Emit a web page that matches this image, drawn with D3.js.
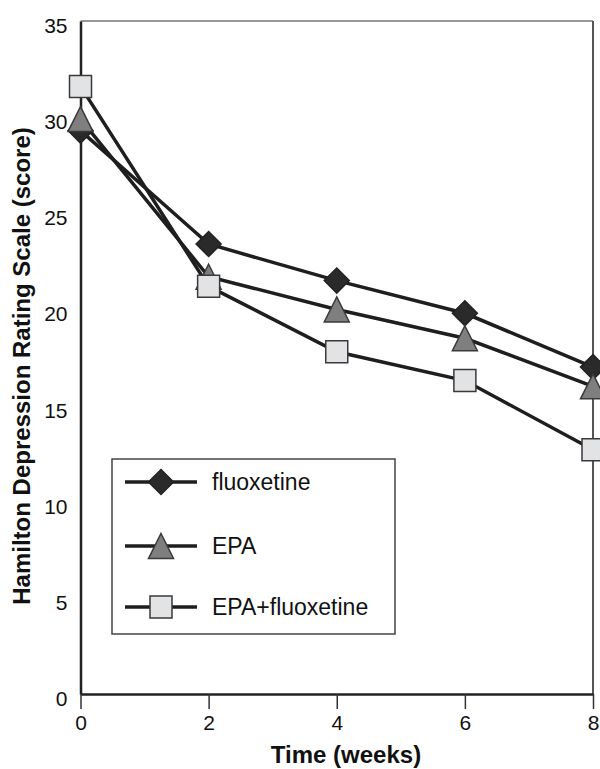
<!DOCTYPE html>
<html>
<head>
<meta charset="utf-8">
<script src="https://cdn.jsdelivr.net/npm/d3@7"></script>
<style>
  body { margin: 0; background: #fff; }
  text { font-family: "Liberation Sans", Arial, sans-serif; fill: #111; }
</style>
</head>
<body>
<div id="chart"></div>
<script>
// chart values
var weeks = [0, 2, 4, 6, 8];
var fluoxetine = [29.3, 23.4, 21.5, 19.8, 17.0];
var epa = [29.9, 21.7, 20.0, 18.5, 16.0];
var epaFluoxetine = [31.6, 21.2, 17.8, 16.3, 12.7];
var seriesNames = ["fluoxetine", "EPA", "EPA+fluoxetine"];
var xTicks = [0, 2, 4, 6, 8];
var yTicks = [0, 5, 10, 15, 20, 25, 30, 35];

var W = 600, H = 769;
var svg = d3.select("#chart").append("svg").attr("width", W).attr("height", H);

var x = d3.scaleLinear().domain([0, 8]).range([80.5, 593]);
var y = d3.scaleLinear().domain([0, 35]).range([694, 21]);

// frame (top/right)
svg.append("line").attr("x1", x(0)).attr("x2", x(8)).attr("y1", y(35)).attr("y2", y(35))
  .attr("stroke", "#333").attr("stroke-width", 1.2);
svg.append("line").attr("x1", x(8)).attr("x2", x(8)).attr("y1", y(35)).attr("y2", y(0))
  .attr("stroke", "#555").attr("stroke-width", 2);

// y axis
var yAxis = svg.append("g").attr("transform", "translate(" + x(0) + ",0)")
  .call(d3.axisLeft(y).tickValues(yTicks).tickSize(0).tickPadding(13));
yAxis.attr("font-size", null).attr("font-family", null);
yAxis.select(".domain").attr("stroke", "#222").attr("stroke-width", 2.5);
yAxis.selectAll("text").style("font-size", "21px").attr("dy", "0.55em").attr("fill", "#111");

// x axis
var xAxis = svg.append("g").attr("transform", "translate(0," + y(0) + ")")
  .call(d3.axisBottom(x).tickValues(xTicks).tickSize(15).tickSizeOuter(0).tickPadding(6));
xAxis.attr("font-size", null).attr("font-family", null);
xAxis.select(".domain").attr("stroke", "#222").attr("stroke-width", 2.5);
xAxis.selectAll(".tick line").attr("stroke", "#333").attr("stroke-width", 1.5);
xAxis.selectAll("text").style("font-size", "21px").attr("fill", "#111");

// axis titles
svg.append("text").attr("x", 346).attr("y", 763).attr("text-anchor", "middle")
  .style("font-size", "24px").attr("font-weight", "bold").text("Time (weeks)");
svg.append("text").attr("transform", "translate(30,366) rotate(-90)").attr("text-anchor", "middle")
  .style("font-size", "24px").attr("font-weight", "bold").text("Hamilton Depression Rating Scale (score)");

// marker shapes, centred on 0,0
function markerPath(kind) {
  if (kind === "diamond") return "M0,-12.5L12.5,0L0,12.5L-12.5,0Z";
  if (kind === "triangle") return "M0,-12.5L12.5,12.5L-12.5,12.5Z";
  return "M-11,-11H11V11H-11Z";
}

var series = [
  { name: seriesNames[0], values: fluoxetine, kind: "diamond", fill: "#2a2a2a", stroke: "#222" },
  { name: seriesNames[1], values: epa, kind: "triangle", fill: "#7f7f7f", stroke: "#3a3a3a" },
  { name: seriesNames[2], values: epaFluoxetine, kind: "square", fill: "#e2e3e5", stroke: "#3a3a3a" }
];

var line = d3.line().x(function(d, i) { return x(weeks[i]); }).y(function(d) { return y(d); });

series.forEach(function(s) {
  var g = svg.append("g");
  g.append("path").attr("d", line(s.values)).attr("fill", "none")
    .attr("stroke", "#1e1e1e").attr("stroke-width", 3.5);
  g.selectAll("path.mk").data(s.values).enter().append("path").attr("class", "mk")
    .attr("d", markerPath(s.kind))
    .attr("transform", function(d, i) { return "translate(" + x(weeks[i]) + "," + y(d) + ")"; })
    .attr("fill", s.fill).attr("stroke", s.stroke).attr("stroke-width", 1.5);
});

// legend
var lg = svg.append("g");
lg.append("rect").attr("x", 112).attr("y", 459).attr("width", 283).attr("height", 175)
  .attr("fill", "#fff").attr("stroke", "#444").attr("stroke-width", 1.5);
var rowY = [482, 546, 607];
series.forEach(function(s, i) {
  lg.append("line").attr("x1", 125).attr("x2", 197).attr("y1", rowY[i]).attr("y2", rowY[i])
    .attr("stroke", "#1e1e1e").attr("stroke-width", 3.5);
  lg.append("path").attr("d", markerPath(s.kind))
    .attr("transform", "translate(161," + rowY[i] + ")")
    .attr("fill", s.fill).attr("stroke", s.stroke).attr("stroke-width", 1.5);
  lg.append("text").attr("x", 212).attr("y", rowY[i] + 8).style("font-size", "23px").text(s.name);
});
</script>
</body>
</html>
